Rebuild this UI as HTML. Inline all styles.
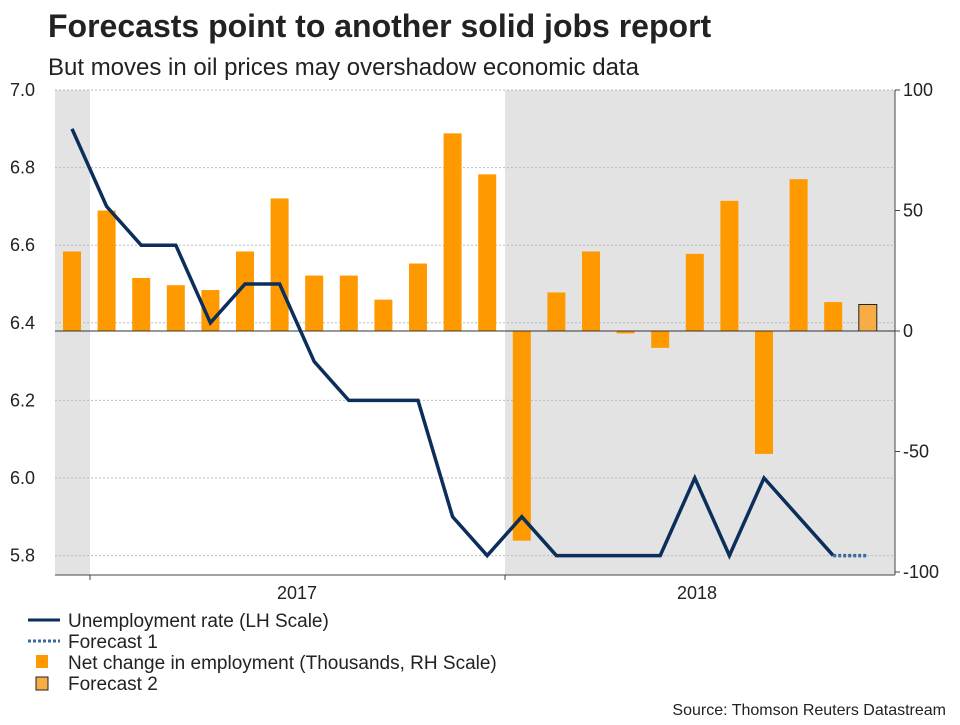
<!DOCTYPE html>
<html><head><meta charset="utf-8">
<style>
body{margin:0;background:#fff;font-family:"Liberation Sans",sans-serif;}
svg text{font-family:"Liberation Sans",sans-serif;}
</style></head>
<body>
<svg id="chart" width="960" height="720">
<text x="48" y="37" font-size="32" font-weight="bold" fill="#222">Forecasts point to another solid jobs report</text>
<text x="48" y="75" font-size="24" fill="#222">But moves in oil prices may overshadow economic data</text>
<g id="plot"></g>
<g>
<line x1="28" y1="620" x2="60" y2="620" stroke="#0b2e5a" stroke-width="3"/>
<text x="68" y="627" font-size="19" fill="#222">Unemployment rate (LH Scale)</text>
<line x1="28" y1="641" x2="60" y2="641" stroke="#3a6a9a" stroke-width="3" stroke-dasharray="3,2"/>
<text x="68" y="648" font-size="19" fill="#222">Forecast 1</text>
<rect x="36" y="655" width="12" height="13" fill="#ff9900"/>
<text x="68" y="669" font-size="19" fill="#222">Net change in employment (Thousands, RH Scale)</text>
<rect x="36" y="677" width="12" height="13" fill="#f7ac45" stroke="#222"/>
<text x="68" y="690" font-size="19" fill="#222">Forecast 2</text>
</g>
<text x="946" y="715" font-size="16" fill="#222" text-anchor="end">Source: Thomson Reuters Datastream</text>
</svg>
<script>
const months = ["Dec16","Jan17","Feb17","Mar17","Apr17","May17","Jun17","Jul17","Aug17","Sep17","Oct17","Nov17","Dec17","Jan18","Feb18","Mar18","Apr18","May18","Jun18","Jul18","Aug18","Sep18","Oct18","Nov18"];
const employment = [33,50,22,19,17,33,55,23,23,13,28,82,65,-87,16,33,-1,-7,32,54,-51,63,12,11];
const unemployment = [6.9,6.7,6.6,6.6,6.4,6.5,6.5,6.3,6.2,6.2,6.2,5.9,5.8,5.9,5.8,5.8,5.8,5.8,6.0,5.8,6.0,5.9,5.8];
const forecastRate = [5.8,5.8];
const leftTicks = ["7.0","6.8","6.6","6.4","6.2","6.0","5.8"];
const rightTicks = [100,50,0,-50,-100];
const yearLabels = ["2017","2018"];

const NS="http://www.w3.org/2000/svg";
const g=document.getElementById('plot');
function mk(t,a,parent){const e=document.createElementNS(NS,t);for(const k in a)e.setAttribute(k,a[k]);(parent||g).appendChild(e);return e;}
const X0=55,X1=895,Y0=90,Y1=575;
const step=34.6, firstX=72;
const xm=i=>firstX+i*step;
const yL=v=>Y0+(7.0-v)*388;
const yR=v=>331-v*2.41;

let e;
e=mk('rect',{x:X0,y:Y0,width:xm(0)+18-X0,height:Y1-Y0,fill:'#e3e3e3'});


e=mk('rect',{x:505,y:Y0,width:X1-505,height:Y1-Y0,fill:'#e3e3e3'});



leftTicks.forEach(t=>{const y=yL(parseFloat(t));
 e=mk('line',{x1:X0,x2:X1,y1:y,y2:y,stroke:'#bbb','stroke-dasharray':'2,2'});
 
 
 e=mk('text',{x:10,y:y+6,'font-size':18,fill:'#222'});e.textContent=t;
 
 
});
rightTicks.forEach(t=>{const y=yR(t);
 e=mk('line',{x1:X1,x2:X1+5,y1:y,y2:y,stroke:'#444'});
 
 
 e=mk('text',{x:X1+8,y:y+6,'font-size':18,fill:'#222'});e.textContent=t;
 
 
});
e=mk('line',{x1:X1,x2:X1,y1:Y0,y2:Y1,stroke:'#444'});


e=mk('line',{x1:X0,x2:X1,y1:Y1,y2:Y1,stroke:'#444'});


[90,505].forEach(x=>{e=mk('line',{x1:x,x2:x,y1:Y1,y2:Y1+5,stroke:'#444'});
 
 });
[297,697].forEach((x,i)=>{e=mk('text',{x:x,y:599,'font-size':18,'text-anchor':'middle',fill:'#222'});e.textContent=yearLabels[i];
 
 });

employment.forEach((v,i)=>{const y=yR(v),z=yR(0);const fc=i===employment.length-1;
 e=mk('rect',{x:xm(i)-9,y:Math.min(y,z),width:18,height:Math.max(Math.abs(y-z),1),fill:fc?'#f7ac45':'#ff9900',stroke:fc?'#222':'none'});
 
 
});
e=mk('line',{x1:X0,x2:X1,y1:yR(0),y2:yR(0),stroke:'#333'});



e=mk('polyline',{points:unemployment.map((v,i)=>xm(i)+','+yL(v)).join(' '),fill:'none',stroke:'#0b2e5a','stroke-width':3.5,'stroke-linejoin':'miter'});


const fs=unemployment.length-1;
e=mk('polyline',{points:forecastRate.map((v,i)=>xm(fs+i)+','+yL(v)).join(' '),fill:'none',stroke:'#3a6a9a','stroke-width':3.5,'stroke-dasharray':'3,2'});


</script>
</body></html>
